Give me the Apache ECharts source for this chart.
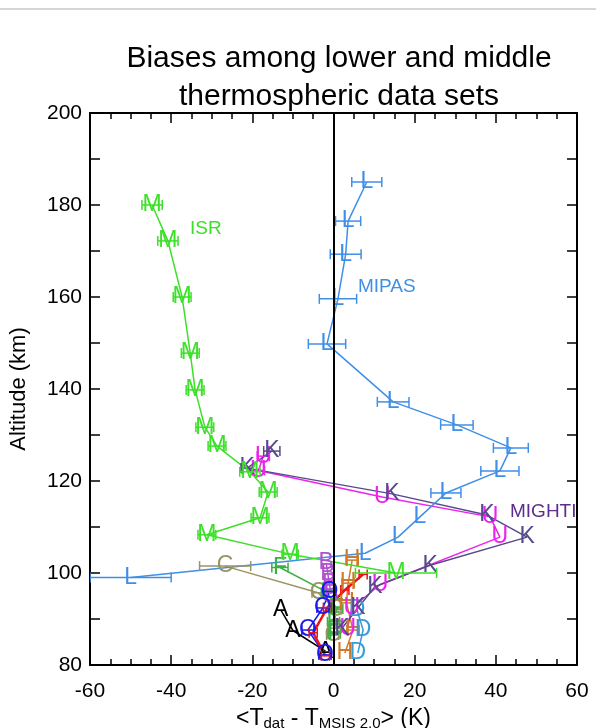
<!DOCTYPE html>
<html>
<head>
<meta charset="utf-8">
<script src="https://cdn.jsdelivr.net/npm/echarts@6/dist/echarts.min.js"></script>
<style>
html, body { margin: 0; padding: 0; background: #fff; }
#chart { width: 596px; height: 728px; }
</style>
</head>
<body>
<div id="chart"></div>
<script>
// ISR (M)
var isrX = [-44.7, -40.8, -37.3, -35.3, -34.1, -31.7, -28.7, -20.6, -16.1, -18.1, -31.2, -10.7, 15.4];
var isrY = [180, 172.2, 160, 147.8, 139.8, 131.7, 127.6, 122, 117.6, 112, 108.3, 104.1, 100];
var isrErr = [2.5, 2.5, 2.2, 2.2, 2.2, 2.2, 2.2, 2.5, 2.2, 2.2, 2.2, 2, 10];

// MIPAS (L)
var mipasX = [8.2, 3.6, 3.0, 1.1, -1.6, 14.7, 30.4, 43.7, 41.0, 27.7, 21.3, 15.9, 7.8, -50];
var mipasY = [185, 176.5, 169.3, 159.6, 149.8, 137.2, 132.2, 127.2, 122.2, 117.4, 112.2, 107.8, 104.3, 99];
var mipasErr = [3.7, 3.1, 3.8, 4.6, 4.6, 3.9, 4.0, 4.3, 4.7, 3.7, 0, 0, 0, 10];

// MIGHTI (K)
var mightiKX = [-15.2, -21.3, 14.4, 37.8, 47.7, 23.8, 10.2, 6, 2.1];
var mightiKY = [126.5, 122.8, 117.2, 112.6, 107.8, 101.7, 97, 92.4, 88];
var mightiKErr = [2, 1.5, 0, 0, 0, 0, 0, 0, 0];

// MIGHTI (U)
var mightiUX = [-17.3, -18.5, 12, 38.6, 41, 11.5, 4.5, 3.5];
var mightiUY = [125.4, 122.3, 116.5, 112.2, 107.8, 97.5, 92.4, 88];
var mightiUErr = [1.5, 1.5, 0, 0, 0, 0, 0, 0];

// lower thermosphere sets
var aX = [-13, -10, -2];
var aY = [92, 87.5, 83];
var oX = [-1, -2.6, -6.3, -2.1];
var oY = [96, 92.4, 87.6, 82.2];
var oErr = [1.5, 1.5, 1.5, 1.5];
var redX = [-2, -5, -1.5, 2.8, 7.3];
var redY = [82, 87, 92.5, 96.3, 99.7];
var redErr = [1, 1, 1, 1, 1];
var cX = [-26.7, -3.8, 0.4, 0.4, -0.2];
var cY = [101.5, 95.7, 92, 88, 86.5];
var cErr = [6.3, 1.5, 1.5, 1.5, 1.5];
var fX = [-13.2, -1.5, 0.8, 0, 0.2];
var fY = [101.2, 95.8, 92.2, 89.4, 86.8];
var fErr = [2, 1.5, 1.5, 1.5, 1.5];
var bX = [-1.8, -1.4, -1, -0.6];
var bY = [102.2, 99.8, 97.6, 95.4];
var hX = [4.6, 3.6, 3.2, 4.8, 2.8];
var hY = [102.8, 97.8, 93.5, 87.6, 82.6];
var hErr = [1.5, 1.5, 1.5, 1.5, 0];
var dX = [5.8, 7.3, 6];
var dY = [92, 87.6, 82.6];

var FONT = 'Liberation Sans';

function zeros(n) { var a = []; for (var i = 0; i < n; i++) a.push(0); return a; }

// line + letter markers with horizontal error bars
function profile(xs, ys, errs, letter, color, width) {
    errs = errs || zeros(xs.length);
    var line = {
        type: 'line',
        data: xs.map(function (x, i) { return [x, ys[i]]; }),
        symbol: 'none',
        clip: true,
        lineStyle: { color: color, width: width || 1.5 },
        z: 2
    };
    var marks = {
        type: 'custom',
        clip: true,
        z: 3,
        data: xs.map(function (x, i) { return [x, ys[i], errs[i]]; }),
        renderItem: function (params, api) {
            var x = api.value(0), y = api.value(1), e = api.value(2);
            var p = api.coord([x, y]);
            var kids = [];
            if (e > 0) {
                var a = api.coord([x - e, y]), b = api.coord([x + e, y]);
                var st = { stroke: color, lineWidth: 1.5 };
                kids.push({ type: 'line', shape: { x1: a[0], y1: a[1], x2: b[0], y2: b[1] }, style: st });
                kids.push({ type: 'line', shape: { x1: a[0], y1: a[1] - 5, x2: a[0], y2: a[1] + 5 }, style: st });
                kids.push({ type: 'line', shape: { x1: b[0], y1: b[1] - 5, x2: b[0], y2: b[1] + 5 }, style: st });
            }
            if (letter) {
                kids.push({
                    type: 'text',
                    style: {
                        text: letter, x: p[0], y: p[1], align: 'center', verticalAlign: 'middle',
                        fill: color, fontSize: 23, fontFamily: FONT
                    }
                });
            }
            return { type: 'group', children: kids };
        }
    };
    return [line, marks];
}

var series = [].concat(
    profile(cX, cY, cErr, 'C', '#9a9460'),
    profile(fX, fY, fErr, 'F', '#3cb043'),
    profile(bX, bY, null, 'B', '#b050d0'),
    profile(hX, hY, hErr, 'H', '#d07a28'),
    profile(dX, dY, null, 'D', '#3a9ad8'),
    profile(aX, aY, null, 'A', '#000000'),
    profile(oX, oY, oErr, 'O', '#1a1aee'),
    profile(redX, redY, redErr, '', '#ee1111', 2.5),
    profile(mightiUX, mightiUY, mightiUErr, 'U', '#ee22ee'),
    profile(mightiKX, mightiKY, mightiKErr, 'K', '#574a8c'),
    profile(mipasX, mipasY, mipasErr, 'L', '#3f8fe8'),
    profile(isrX, isrY, isrErr, 'M', '#3de029')
);

// vertical zero line
series[0].markLine = {
    silent: true,
    symbol: ['none', 'none'],
    label: { show: false },
    lineStyle: { color: '#000', width: 2, type: 'solid' },
    data: [{ xAxis: 0 }]
};

var tickStyle = { color: '#000', width: 1.5 };
function xAx(pos, labels) {
    return {
        type: 'value', min: -60, max: 60, interval: 20, position: pos,
        axisLine: { onZero: false, lineStyle: { color: '#000', width: 2 } },
        axisTick: { inside: true, length: 10, lineStyle: tickStyle },
        minorTick: { show: true, splitNumber: 4, length: 6, lineStyle: tickStyle },
        splitLine: { show: false },
        axisLabel: { show: labels, color: '#000', fontSize: 21, fontFamily: FONT, margin: 16 }
    };
}
function yAx(pos, labels) {
    return {
        type: 'value', min: 80, max: 200, interval: 10, position: pos,
        axisLine: { onZero: false, lineStyle: { color: '#000', width: 2 } },
        axisTick: { inside: true, length: 10, lineStyle: tickStyle },
        splitLine: { show: false },
        axisLabel: {
            show: labels, color: '#000', fontSize: 21, fontFamily: FONT, margin: 8,
            formatter: function (v) { return v % 20 === 0 ? v : ''; }
        }
    };
}

var xBottom = xAx('bottom', true);
xBottom.name = '<T{sub|dat} - T{sub|MSIS 2.0}> (K)';
xBottom.nameLocation = 'middle';
xBottom.nameGap = 33;
xBottom.nameTextStyle = {
    color: '#000', fontSize: 23, fontFamily: FONT,
    rich: { sub: { fontSize: 15, fontFamily: FONT, color: '#000', padding: [11, 0, 0, 0] } }
};
var yLeft = yAx('left', true);
yLeft.name = 'Altitude (km)';
yLeft.nameLocation = 'middle';
yLeft.nameGap = 60;
yLeft.nameTextStyle = { color: '#000', fontSize: 22, fontFamily: FONT };

var myChart = echarts.init(document.getElementById('chart'), null, { renderer: 'canvas' });
var option = {
    animation: false,
    backgroundColor: '#fff',
    grid: { left: 90, right: 19, top: 113, bottom: 63, containLabel: false, outerBoundsMode: 'none' },
    xAxis: [xBottom, xAx('top', false)],
    yAxis: [yLeft, yAx('right', false)],
    graphic: [
        { type: 'line', shape: { x1: 0, y1: 9, x2: 596, y2: 9 }, style: { stroke: '#c8c8c8', lineWidth: 1.5 } },
        {
            type: 'text', x: 339, y: 40,
            style: {
                text: 'Biases among lower and middle\nthermospheric data sets',
                align: 'center', verticalAlign: 'top', fontSize: 30, lineHeight: 38,
                fontFamily: FONT, fill: '#000'
            }
        },
        { type: 'text', x: 190, y: 229, style: { text: 'ISR', verticalAlign: 'middle', fontSize: 19, fontFamily: FONT, fill: '#3de029' } },
        { type: 'text', x: 358, y: 287, style: { text: 'MIPAS', verticalAlign: 'middle', fontSize: 19, fontFamily: FONT, fill: '#3f8fe8' } },
        { type: 'text', x: 510, y: 512, style: { text: 'MIGHTI', verticalAlign: 'middle', fontSize: 19, fontFamily: FONT, fill: '#5b2d8e' } }
    ],
    series: series
};
myChart.setOption(option);
</script>
</body>
</html>
